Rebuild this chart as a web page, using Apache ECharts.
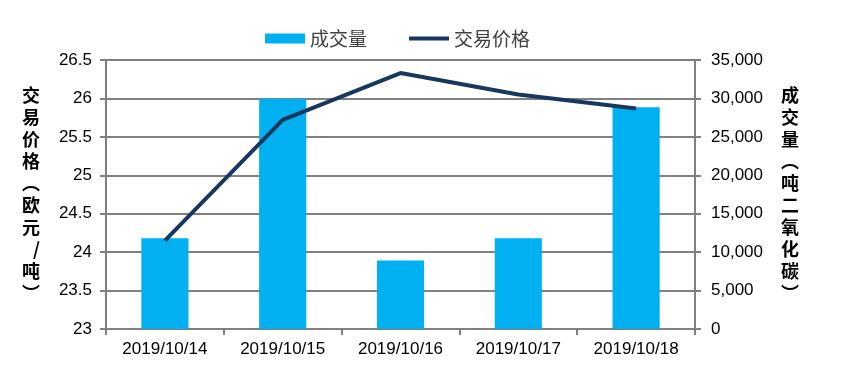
<!DOCTYPE html>
<html><head><meta charset="utf-8">
<script src="https://cdn.jsdelivr.net/npm/echarts@6/dist/echarts.min.js"></script>
<style>html,body{margin:0;padding:0;background:#fff}#c{width:843px;height:390px}</style>
</head><body><div id="c"></div>
<script>
var categories = ['2019/10/14','2019/10/15','2019/10/16','2019/10/17','2019/10/18'];
var volume = [11800, 29950, 8900, 11800, 28850];
var price = [24.15, 25.72, 26.33, 26.05, 25.87];
var leftName = ['交','易','价','格','︵','欧','元','/','吨','︶'];
var rightName = ['成','交','量','︵','吨','二','氧','化','碳','︶'];

var chart = echarts.init(document.getElementById('c'));
var font = '"Liberation Sans", Arial, sans-serif';
chart.setOption({
  animation: false,
  textStyle: {fontFamily: font},
  legend: {
    left: 260, top: 24, itemGap: 42, itemWidth: 40, itemHeight: 10,
    textStyle: {fontSize: 19, color: '#404040', fontFamily: '"Noto Sans CJK SC", sans-serif'},
    data: [{name: '成交量', icon: 'rect'},
           {name: '交易价格', icon: 'path://M0,0H40V4H0Z', symbolKeepAspect: true}]
  },
  grid: {left: 106, right: 148, top: 60, bottom: 61, containLabel: false},
  xAxis: {
    type: 'category', data: categories, boundaryGap: true,
    axisLine: {lineStyle: {color: '#808080', width: 2}},
    axisTick: {show: true, length: 6, lineStyle: {color: '#808080', width: 2}},
    axisLabel: {fontSize: 17, color: '#000', margin: 12}
  },
  yAxis: [{
    type: 'value', min: 23, max: 26.5, interval: 0.5, position: 'left',
    axisLine: {show: true, lineStyle: {color: '#808080', width: 2}},
    axisTick: {show: true, length: 6, lineStyle: {color: '#808080', width: 2}},
    axisLabel: {fontSize: 17, color: '#000', margin: 14},
    splitLine: {show: true, lineStyle: {color: '#808080', width: 2}},
    name: leftName.join('\n'), nameLocation: 'middle', nameRotate: 0, nameGap: 66,
    nameTextStyle: {fontSize: 18, fontWeight: 'bold', color: '#000', lineHeight: 22,
      fontFamily: '"Noto Sans CJK SC", sans-serif'}
  }, {
    type: 'value', min: 0, max: 35000, interval: 5000, position: 'right',
    axisLine: {show: true, lineStyle: {color: '#808080', width: 2}},
    axisTick: {show: true, length: 6, lineStyle: {color: '#808080', width: 2}},
    axisLabel: {fontSize: 17, color: '#000', margin: 16,
      formatter: function (v) { return v.toLocaleString('en-US'); }},
    splitLine: {show: false},
    name: rightName.join('\n'), nameLocation: 'middle', nameRotate: 0, nameGap: 86,
    nameTextStyle: {fontSize: 18, fontWeight: 'bold', color: '#000', lineHeight: 22,
      fontFamily: '"Noto Sans CJK SC", sans-serif'}
  }],
  series: [{
    name: '成交量', type: 'bar', yAxisIndex: 1, data: volume, barWidth: '40%',
    itemStyle: {color: '#00B0F0'}
  }, {
    name: '交易价格', type: 'line', yAxisIndex: 0, data: price, symbol: 'none',
    lineStyle: {color: '#17375E', width: 4}, itemStyle: {color: '#17375E'}
  }]
});
</script></body></html>
